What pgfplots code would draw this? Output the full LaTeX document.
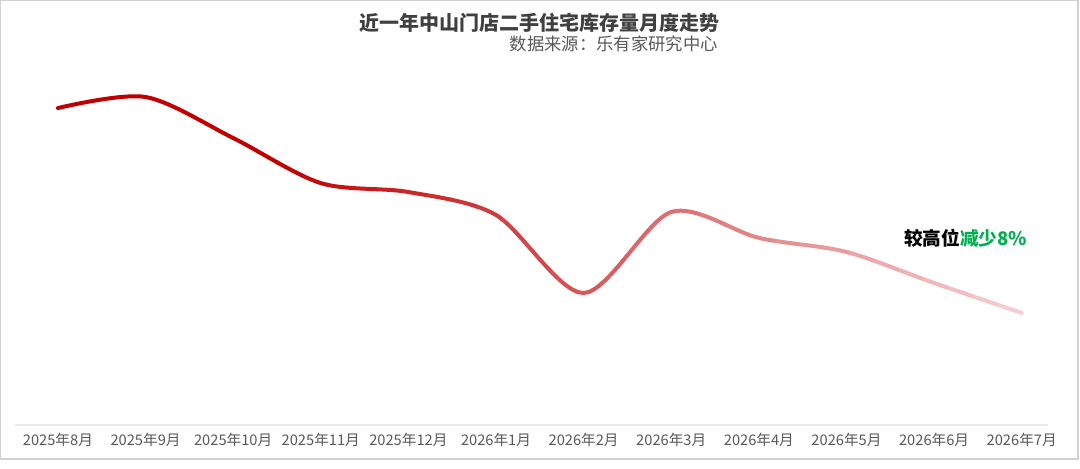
\documentclass[border=0pt]{standalone}
\usepackage{fontspec}
\setmainfont{Noto Sans CJK SC}
\usepackage{pgfplots}
\usepackage{pgfplotstable}
\pgfplotsset{compat=1.18}
\definecolor{darkred}{HTML}{C00000}
\definecolor{pinkend}{HTML}{F6D0D5}
\definecolor{titlegray}{HTML}{404040}
\definecolor{labgray}{HTML}{595959}
\definecolor{framegray}{HTML}{D0D0D0}
\definecolor{basegray}{HTML}{EBEBEB}
\definecolor{mygreen}{HTML}{00B050}

\pgfplotstableread{
x y
0 99.59
1 100.00
2 98.48
3 96.81
4 96.48
5 95.63
6 92.74
7 95.74
8 94.78
9 94.26
10 93.11
11 92.00
}\datatable

\begin{document}
\begin{tikzpicture}[x=0.75pt,y=0.75pt]
\path[use as bounding box, fill=white] (0,0) rectangle (1080,468);
\draw[framegray, line width=1.1pt] (0.7,9) rectangle (1078,467.3);
\begin{axis}[
  at={(11.25pt,32.25pt)}, anchor=south west,
  scale only axis, width=774.75pt, height=273.75pt,
  xmin=-0.49, xmax=11.3, ymin=87.85, ymax=101.37,
  axis y line=none, axis x line*=bottom,
  x axis line style={basegray, line width=1.5pt, -},
  xtick={0,...,11},
  xticklabels={2025年8月,2025年9月,2025年10月,2025年11月,2025年12月,2026年1月,2026年2月,2026年3月,2026年4月,2026年5月,2026年6月,2026年7月},
  major tick length=0pt,
  xticklabel style={font=\fontsize{11}{12}\selectfont, text=labgray, yshift=-2.5pt},
  clip=false,
]
\begin{scope}
\clip (axis cs:-1,80) rectangle (axis cs:2.52,110);
\addplot[smooth, color=darkred, line width=3pt, line cap=round] table[x=x,y=y] {\datatable};
\end{scope}
\pgfplotsinvokeforeach{0,...,29}{
  \pgfmathsetmacro\xa{2.5+#1*0.28333}
  \pgfmathsetmacro\xb{\xa+0.30+(#1==29)*1}
  \pgfmathtruncatemacro\pc{100-(#1+0.5)*100/30}
  \edef\temp{\noexpand\begin{scope}\noexpand\clip (axis cs:\xa,80) rectangle (axis cs:\xb,110);
    \noexpand\addplot[smooth, color=darkred!\pc!pinkend, line width=3pt, line cap=round] table[x=x,y=y] {\noexpand\datatable};
    \noexpand\end{scope}}
  \temp
}
\end{axis}
\node[anchor=center, inner sep=0, font=\bfseries\fontsize{15}{17}\selectfont, text=titlegray] at (539,445.5) {近一年中山门店二手住宅库存量月度走势};
\node[anchor=east, inner sep=0, font=\fontsize{13}{15}\selectfont, text=labgray] at (718,424.5) {数据来源：乐有家研究中心};
\node[anchor=west, inner sep=0, font=\bfseries\fontsize{14}{16}\selectfont, text=black] at (904,230) {较高位\textcolor{mygreen}{减少8\%}};
\end{tikzpicture}
\end{document}
